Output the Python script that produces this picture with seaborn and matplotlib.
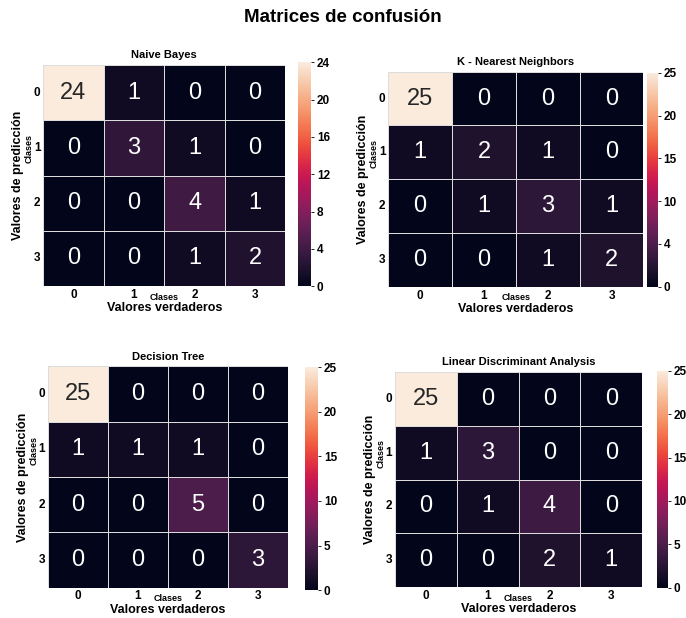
import numpy as np
import matplotlib
matplotlib.use('Agg')
import matplotlib.pyplot as plt
import seaborn as sns

sns.set_theme(style="white")
plt.rcParams['font.family'] = ['Liberation Sans', 'DejaVu Sans']
plt.rcParams['text.color'] = 'black'
plt.rcParams['axes.labelcolor'] = 'black'
plt.rcParams['xtick.color'] = 'black'
plt.rcParams['ytick.color'] = 'black'

clases = ['0', '1', '2', '3']

titulos = ['Naive Bayes', 'K - Nearest Neighbors', 'Decision Tree', 'Linear Discriminant Analysis']

cm_nb = [[24, 1, 0, 0],
         [0, 3, 1, 0],
         [0, 0, 4, 1],
         [0, 0, 1, 2]]
cm_knn = [[25, 0, 0, 0],
          [1, 2, 1, 0],
          [0, 1, 3, 1],
          [0, 0, 1, 2]]
cm_dt = [[25, 0, 0, 0],
         [1, 1, 1, 0],
         [0, 0, 5, 0],
         [0, 0, 0, 3]]
cm_lda = [[25, 0, 0, 0],
          [1, 3, 0, 0],
          [0, 1, 4, 0],
          [0, 0, 2, 1]]

cbar_ticks_nb = [0, 4, 8, 12, 16, 20, 24]
cbar_labels_nb = ['0', '4', '8', '12', '16', '20', '24']
cbar_ticks_knn = [0, 5, 10, 15, 20, 25]
cbar_labels_knn = ['0', '4', '10', '15', '20', '25']
cbar_ticks_dt = [0, 5, 10, 15, 20, 25]
cbar_labels_dt = ['0', '5', '10', '15', '20', '25']
cbar_ticks_lda = [0, 5, 10, 15, 20, 25]
cbar_labels_lda = ['0', '5', '10', '15', '20', '25']

matrices = [cm_nb, cm_knn, cm_dt, cm_lda]
ticks = [cbar_ticks_nb, cbar_ticks_knn, cbar_ticks_dt, cbar_ticks_lda]
tick_labels = [cbar_labels_nb, cbar_labels_knn, cbar_labels_dt, cbar_labels_lda]

fig = plt.figure(figsize=(6.86, 6.18), dpi=100)
fig.suptitle('Matrices de confusión', fontsize=13.5, fontweight='bold', y=0.985)

# posiciones [heatmap, colorbar] en fracciones de la figura
layout = [
    ([0.063, 0.537, 0.353, 0.358], [0.434, 0.537, 0.020, 0.362]),
    ([0.566, 0.536, 0.372, 0.348], [0.943, 0.536, 0.016, 0.346]),
    ([0.070, 0.049, 0.350, 0.358], [0.445, 0.045, 0.019, 0.361]),
    ([0.576, 0.050, 0.360, 0.348], [0.958, 0.049, 0.016, 0.351]),
]

for cm, titulo, tk, tl, (pos_ax, pos_cb) in zip(matrices, titulos, ticks, tick_labels, layout):
    ax = fig.add_axes(pos_ax)
    cax = fig.add_axes(pos_cb)
    data = np.array(cm)
    sns.heatmap(data, annot=True, fmt='d', ax=ax, cbar_ax=cax,
                linewidths=0.7, linecolor='#dcdcdc',
                xticklabels=clases, yticklabels=clases,
                annot_kws={'fontsize': 17})
    ax.set_title(titulo, fontsize=8, fontweight='bold', pad=5)
    ax.tick_params(axis='both', length=0, labelsize=8.5, pad=2)
    ax.set_xticklabels(clases, fontweight='bold')
    ax.set_yticklabels(clases, rotation=0, fontweight='bold')
    ax.set_xlabel('Valores verdaderos', fontsize=9, fontweight='bold', labelpad=1)
    ax.set_ylabel('Valores de predicción', fontsize=9, fontweight='bold', labelpad=7)
    ax.annotate('Clases', xy=(0.5, 0), xycoords='axes fraction',
                xytext=(0, -8), textcoords='offset points',
                ha='center', va='center', fontsize=6.5, fontweight='bold')
    ax.annotate('Clases', xy=(0, 0.62), xycoords='axes fraction',
                xytext=(-10, 0), textcoords='offset points', rotation=90,
                ha='center', va='center', fontsize=6.5, fontweight='bold')

    cax.set_yticks(tk)
    cax.set_yticklabels(tl)
    cax.tick_params(length=2, width=0.6, labelsize=8.5, pad=2)
    for lab in cax.get_yticklabels():
        lab.set_fontweight('bold')

fig.savefig('out.png', dpi=100)
